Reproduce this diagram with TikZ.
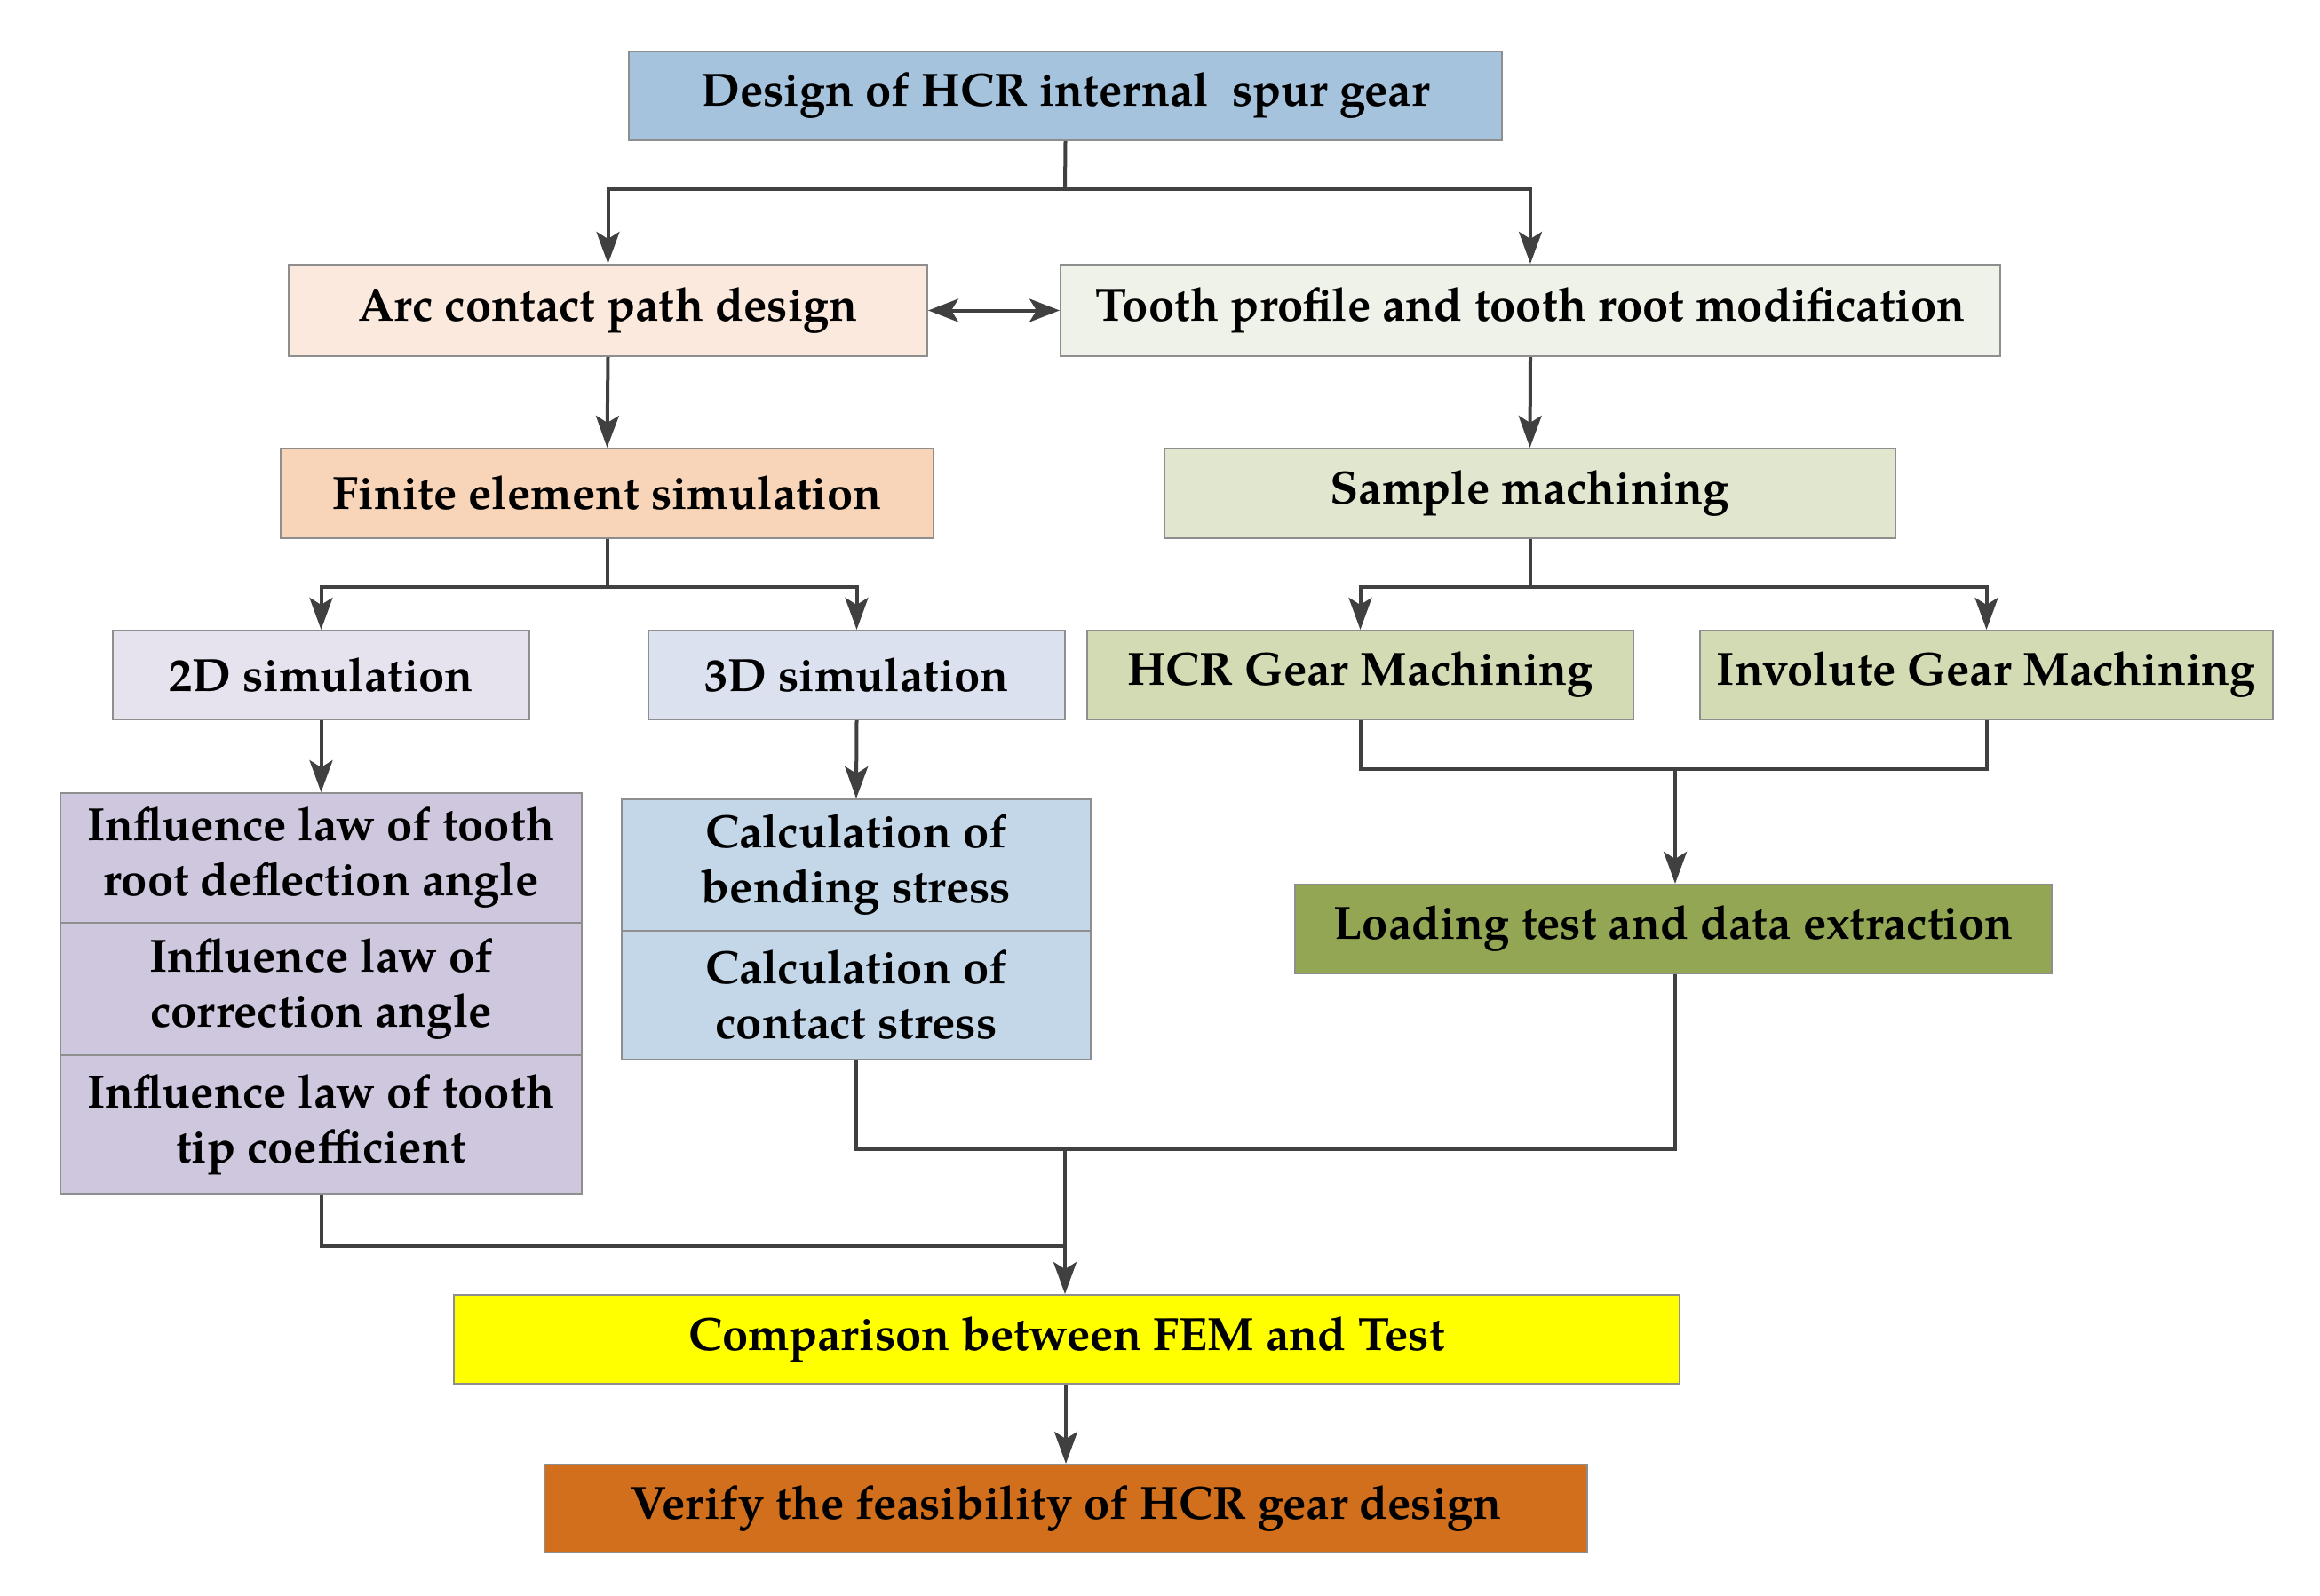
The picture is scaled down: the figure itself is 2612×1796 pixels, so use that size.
\documentclass[tikz,border=0pt]{standalone}
\usepackage{fontspec}
\setmainfont{TeX Gyre Pagella}
\usetikzlibrary{arrows.meta}
\definecolor{cTop}{HTML}{A6C3DD}
\definecolor{cArc}{HTML}{FBE9DD}
\definecolor{cTooth}{HTML}{EFF2E8}
\definecolor{cFem}{HTML}{F8D5B8}
\definecolor{cSamp}{HTML}{E1E7CF}
\definecolor{cTwo}{HTML}{E6E3EF}
\definecolor{cThree}{HTML}{DBE1EE}
\definecolor{cMach}{HTML}{D3DBB5}
\definecolor{cInfl}{HTML}{CEC7DD}
\definecolor{cCalc}{HTML}{C4D7E8}
\definecolor{cLoad}{HTML}{92A653}
\definecolor{cComp}{HTML}{FFFF00}
\definecolor{cVer}{HTML}{D26F1C}
\definecolor{cBord}{HTML}{8E8E8E}
\definecolor{cLine}{HTML}{404040}
\tikzset{
  boxbase/.style={draw=cBord, line width=2pt, inner sep=0pt, align=center,
    font=\fontsize{52.5}{62}\selectfont\bfseries},
  conn/.style={draw=cLine, line width=4pt},
  arr/.style={conn, -{Stealth[length=36pt,width=26pt,inset=8pt]}},
  darr/.style={conn, {Stealth[length=34pt,width=26pt,inset=8pt]}-{Stealth[length=34pt,width=26pt,inset=8pt]}},
}
\begin{document}
\begin{tikzpicture}[x=1pt,y=-1pt]
\useasboundingbox (0,0) rectangle (2612,1796);
% nodes
\node[boxbase, fill=cTop, minimum width=983pt, minimum height=100pt] (top) at (1199.5,108) {Design of HCR internal\ \ spur gear};
\node[boxbase, fill=cArc, minimum width=719pt, minimum height=103pt] (arc) at (684.5,349.5) {Arc contact path design};
\node[boxbase, fill=cTooth, minimum width=1058pt, minimum height=103pt] (tooth) at (1723,349.5) {Tooth profile and tooth root modification};
\node[boxbase, fill=cFem, minimum width=735pt, minimum height=101pt] (fem) at (683.5,555.5) {Finite element simulation};
\node[boxbase, fill=cSamp, minimum width=823pt, minimum height=101pt] (samp) at (1722.5,555.5) {Sample machining};
\node[boxbase, fill=cTwo, minimum width=469pt, minimum height=100pt] (sim2) at (361.5,760) {2D simulation};
\node[boxbase, fill=cThree, minimum width=469pt, minimum height=100pt] (sim3) at (964.5,760) {3D simulation};
\node[boxbase, fill=cMach, minimum width=615pt, minimum height=100pt] (hcr) at (1531.5,760) {HCR Gear Machining};
\node[boxbase, fill=cMach, minimum width=645pt, minimum height=100pt] (inv) at (2236.5,760) {Involute Gear Machining};
\node[boxbase, fill=cInfl, minimum width=587pt, minimum height=146pt] (inA) at (361.5,966) {Influence law of tooth\\root deflection angle};
\node[boxbase, fill=cInfl, minimum width=587pt, minimum height=149pt] (inB) at (361.5,1113.5) {Influence law of\\correction angle};
\node[boxbase, fill=cInfl, minimum width=587pt, minimum height=156pt] (inC) at (361.5,1266) {Influence law of tooth\\tip coefficient};
\node[boxbase, fill=cCalc, minimum width=528pt, minimum height=148pt] (caA) at (964,974) {Calculation of\\bending stress};
\node[boxbase, fill=cCalc, minimum width=528pt, minimum height=145pt] (caB) at (964,1120.5) {Calculation of\\contact stress};
\node[boxbase, fill=cLoad, minimum width=852pt, minimum height=100pt] (load) at (1884,1046) {Loading test and data extraction};
\node[boxbase, fill=cComp, minimum width=1380pt, minimum height=100pt] (comp) at (1201,1508) {Comparison between FEM and Test};
\node[boxbase, fill=cVer, minimum width=1174pt, minimum height=99pt] (ver) at (1200,1698.5) {Verify the feasibility of HCR gear design};
% junction coordinates
\coordinate (b1) at (1199,213);
\coordinate (b2) at (683.5,661);
\coordinate (b3) at (1722.5,661);
\coordinate (b4) at (1886,866);
\coordinate (b5) at (1199,1294);
\coordinate (b6) at (1199,1403);
% connectors
\draw[conn] (top.south) -- (b1);
\draw[arr] (b1) -| (arc.north);
\draw[arr] (b1) -| (tooth.north);
\draw[darr] (arc.east) -- (tooth.west);
\draw[arr] (arc.south) -- (fem.north);
\draw[arr] (tooth.south) -- (samp.north);
\draw[conn] (fem.south) -- (b2);
\draw[arr] (b2) -| (sim2.north);
\draw[arr] (b2) -| (sim3.north);
\draw[conn] (samp.south) -- (b3);
\draw[arr] (b3) -| (hcr.north);
\draw[arr] (b3) -| (inv.north);
\draw[arr] (sim2.south) -- (inA.north);
\draw[arr] (sim3.south) -- (caA.north);
\draw[conn] (hcr.south) |- (b4);
\draw[conn] (inv.south) |- (b4);
\draw[arr] (b4) -- (load.north -| b4);
\draw[conn] (caB.south) |- (b5);
\draw[conn] (load.south -| b4) |- (b5);
\draw[conn] (inC.south) |- (b6);
\draw[arr] (b5) -- (comp.north -| b5);
\draw[arr] (comp.south -| ver.north) -- (ver.north);
\end{tikzpicture}
\end{document}
